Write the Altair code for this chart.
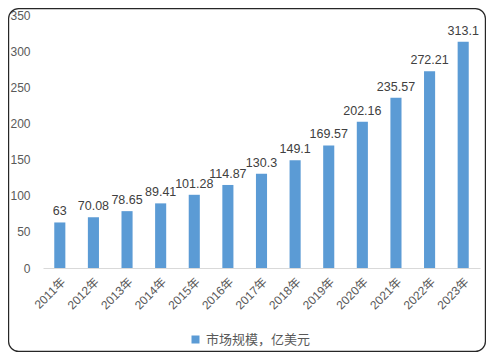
import altair as alt
import pandas as pd

years = ["2011年", "2012年", "2013年", "2014年", "2015年", "2016年", "2017年",
         "2018年", "2019年", "2020年", "2021年", "2022年", "2023年"]
values = [63, 70.08, 78.65, 89.41, 101.28, 114.87, 130.3,
          149.1, 169.57, 202.16, 235.57, 272.21, 313.1]
labels = ["63", "70.08", "78.65", "89.41", "101.28", "114.87", "130.3",
          "149.1", "169.57", "202.16", "235.57", "272.21", "313.1"]
y_ticks = [0, 50, 100, 150, 200, 250, 300, 350]
series_name = "市场规模，亿美元"

df = pd.DataFrame({"year": years, "value": values, "label": labels,
                   "series": [series_name] * len(years)})

FONT = "Liberation Sans, Noto Sans CJK SC"
W, H = 437, 253
PL, PT, PR, PB = 35, 7, 6, 84

x = alt.X("year:N", sort=years, title=None,
          scale=alt.Scale(paddingInner=0.67, paddingOuter=0.335),
          axis=alt.Axis(labelAngle=-45, labelFont=FONT, labelFontSize=12,
                        labelColor="#595959", ticks=False, domainColor="#d9d9d9",
                        labelPadding=8, labelOverlap=False))
y = alt.Y("value:Q", title=None,
          scale=alt.Scale(domain=[0, 350], nice=False),
          axis=alt.Axis(values=y_ticks, grid=False, labelOverlap=False,
                        domain=False, ticks=False, labelPadding=13,
                        labelFont=FONT, labelFontSize=12, labelColor="#595959"))

bars = alt.Chart(df).mark_bar(color="#5B9BD5").encode(
    x=x, y=y,
    color=alt.Color("series:N", scale=alt.Scale(range=["#5B9BD5"]),
                    legend=alt.Legend(title=None, orient="none", legendX=146,
                                      legendY=318, symbolType="square",
                                      symbolSize=64, labelFont="Noto Sans CJK SC",
                                      labelFontSize=13, labelColor="#595959",
                                      symbolStrokeWidth=0)),
)

text = alt.Chart(df).mark_text(baseline="bottom", dy=-4, font=FONT, fontSize=12.5,
                               color="#404040").encode(
    x=x, y=y, text="label:N")

border_df = pd.DataFrame({"a": [0]})
border = alt.Chart(border_df).mark_rect(
    fill=None, stroke="#262626", strokeWidth=1.2, cornerRadius=10
).encode(
    x=alt.value(-PL + 0.6), x2=alt.value(W + PR - 0.6),
    y=alt.value(-PT + 0.6), y2=alt.value(H + PB - 0.6),
)

chart = alt.layer(bars, text, border).properties(
    width=W, height=H,
    autosize=alt.AutoSizeParams(type="none"),
    padding={"left": PL, "top": PT, "right": PR, "bottom": PB},
).configure_view(stroke=None)

chart.save("out.html", embed_options={"renderer": "svg", "actions": False})
